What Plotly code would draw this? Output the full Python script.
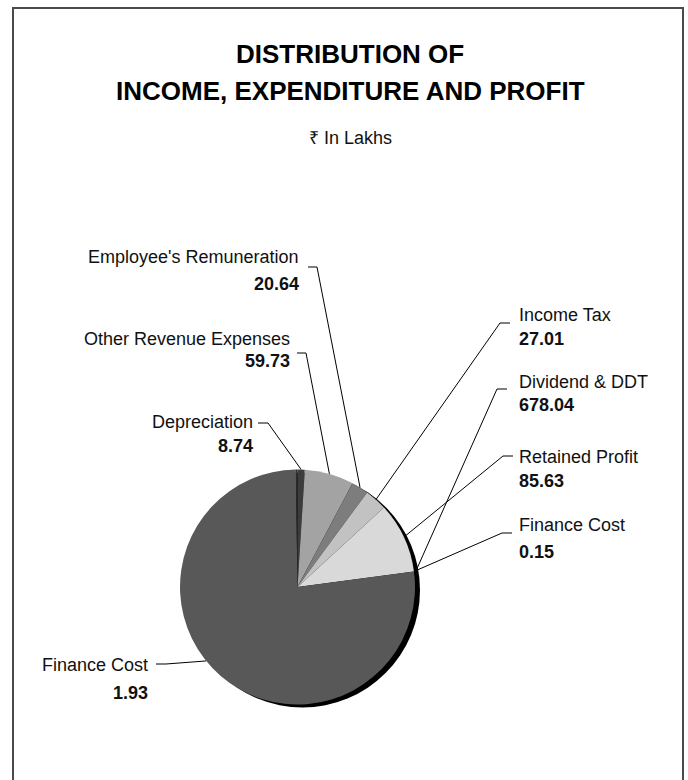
import math
import plotly.graph_objects as go

W, H = 688, 780

# ---- data -----------------------------------------------------------------
items = ["Employee's Remuneration", "Other Revenue Expenses", "Depreciation",
         "Income Tax", "Dividend & DDT", "Retained Profit",
         "Finance Cost", "Finance Cost"]
amounts = [20.64, 59.73, 8.74, 27.01, 678.04, 85.63, 0.15, 1.93]
amount_text = ["20.64", "59.73", "8.74", "27.01", "678.04", "85.63", "0.15", "1.93"]

# slice order around the pie (clockwise from 12 o'clock), as indices into items
slice_order = [2, 1, 0, 3, 5, 6, 4, 7]
slice_colors = {0: "#7d7d7d", 1: "#a3a3a3", 2: "#3c3c3c", 3: "#c2c2c2",
                4: "#585858", 5: "#d9d9d9", 6: "#efefef", 7: "#2e2e2e"}

# ---- label layout (pixels) ------------------------------------------------
# side, text x, name centre y, amount centre y, leader tick start, tick end
label_pos = {
    0: ("left", 301, 257.5, 283.5, (308, 267), (317, 267)),
    1: ("left", 292, 338.5, 361.0, (297, 353), (306, 353)),
    2: ("left", 255, 422.5, 446.0, (258, 423), (268, 423)),
    7: ("left", 150, 665.0, 693.0, (156, 664), (166, 664)),
    3: ("right", 517, 315.0, 338.5, (510, 323), (500, 323)),
    4: ("right", 517, 381.5, 405.0, (507, 389), (497, 389)),
    5: ("right", 517, 457.0, 480.5, (513, 456), (503, 456)),
    6: ("right", 517, 525.0, 552.0, (512, 533), (502, 533)),
}

# pie geometry (pixels)
CX, CY, R = 297.5, 587.0, 117.5
SHADOW_DX, SHADOW_DY = 5, 3

FONT = "Liberation Sans, Arial, sans-serif"


def px(x):
    return x / W


def py(y):
    return 1 - y / H


def dom(cx, cy, r):
    return dict(x=[px(cx - r), px(cx + r)], y=[py(cy + r), py(cy - r)])


ordered_vals = [amounts[i] for i in slice_order]
ordered_names = [items[i] for i in slice_order]
ordered_cols = [slice_colors[i] for i in slice_order]

fig = go.Figure()

# drop shadow disc
fig.add_trace(go.Pie(values=[1], labels=["shadow"], domain=dom(CX + SHADOW_DX, CY + SHADOW_DY, R),
                     marker=dict(colors=["#000000"], line=dict(width=0)),
                     textinfo="none", hoverinfo="skip", showlegend=False, sort=False))

fig.add_trace(go.Pie(values=ordered_vals, labels=[f"{n} ({v})" for n, v in zip(ordered_names, ordered_vals)],
                     domain=dom(CX, CY, R), sort=False, direction="clockwise", rotation=0,
                     marker=dict(colors=ordered_cols, line=dict(width=0)),
                     textinfo="none", hoverinfo="label+percent", showlegend=False))

# angular position of every slice (degrees clockwise from 12 o'clock)
total = sum(amounts)
start = {}
span = {}
acc = 0.0
for i in slice_order:
    start[i] = acc
    span[i] = amounts[i] / total * 360.0
    acc += span[i]


def rim(theta_deg, rr=R):
    t = math.radians(theta_deg)
    return CX + rr * math.sin(t), CY - rr * math.cos(t)


anchor_angle = {}
for i in slice_order:
    anchor_angle[i] = start[i] + span[i] / 2
anchor_angle[4] = start[4] + 1.5      # large slice: point just past its leading edge
anchor_angle[7] = 231.0               # leader drawn to the lower-left rim

shapes = []
annotations = []

# frame
shapes.append(dict(type="rect", xref="paper", yref="paper",
                   x0=px(13), x1=px(683), y0=-0.05, y1=py(8),
                   line=dict(color="#4a4a4a", width=2), fillcolor="rgba(0,0,0,0)"))

for i, (side, tx, ny, vy, t0, t1) in label_pos.items():
    ax, ay = rim(anchor_angle[i])
    path = f"M {px(t0[0])},{py(t0[1])} L {px(t1[0])},{py(t1[1])} L {px(ax)},{py(ay)}"
    shapes.append(dict(type="path", xref="paper", yref="paper", path=path,
                       line=dict(color="#000000", width=1)))
    xa = "right" if side == "left" else "left"
    annotations.append(dict(x=px(tx), y=py(ny), xref="paper", yref="paper",
                            text=items[i], showarrow=False, xanchor=xa, yanchor="middle",
                            font=dict(family=FONT, size=18, color="#111111")))
    annotations.append(dict(x=px(tx), y=py(vy), xref="paper", yref="paper",
                            text=f"<b>{amount_text[i]}</b>", showarrow=False, xanchor=xa,
                            yanchor="middle", font=dict(family=FONT, size=18, color="#111111")))

# titles
annotations.append(dict(x=px(350), y=py(54), xref="paper", yref="paper",
                        text="<b>DISTRIBUTION OF</b>", showarrow=False, xanchor="center",
                        yanchor="middle", font=dict(family=FONT, size=26, color="#000000")))
annotations.append(dict(x=px(350), y=py(90.5), xref="paper", yref="paper",
                        text="<b>INCOME, EXPENDITURE AND PROFIT</b>", showarrow=False,
                        xanchor="center", yanchor="middle",
                        font=dict(family=FONT, size=26, color="#000000")))
annotations.append(dict(x=px(350), y=py(137.5), xref="paper", yref="paper",
                        text="₹ In Lakhs", showarrow=False, xanchor="center", yanchor="middle",
                        font=dict(family=FONT, size=18, color="#111111")))

fig.update_layout(width=W, height=H, margin=dict(l=0, r=0, t=0, b=0),
                  paper_bgcolor="#ffffff", plot_bgcolor="#ffffff",
                  shapes=shapes, annotations=annotations, showlegend=False)

fig.write_html("out.html")
